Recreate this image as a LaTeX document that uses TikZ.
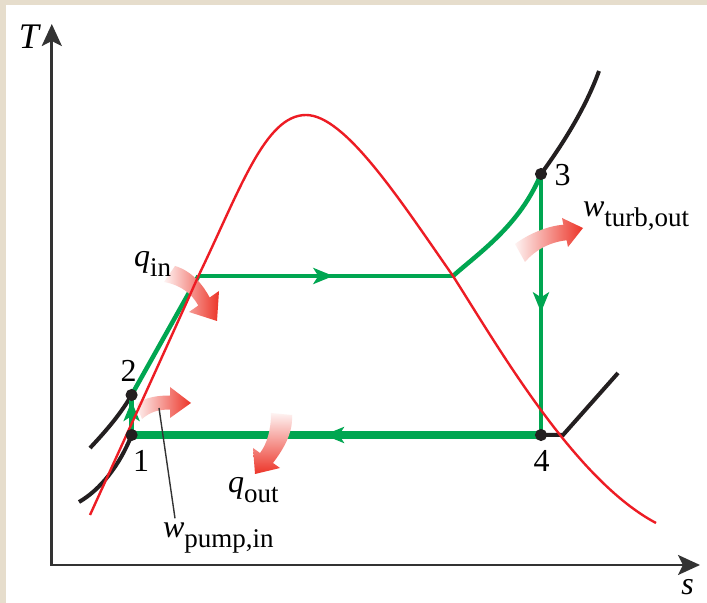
\documentclass[tikz,border=0pt]{standalone}
\usepackage{fontspec}
\setmainfont{Liberation Serif}
\usetikzlibrary{arrows.meta}
\usetikzlibrary{decorations.markings}

\definecolor{cyclegreen}{RGB}{0,166,81}
\definecolor{domered}{RGB}{237,28,36}
\definecolor{isoblack}{RGB}{35,31,32}
\definecolor{heatred}{RGB}{236,52,40}
\definecolor{paper}{RGB}{230,221,204}

\newcommand{\sub}[1]{\raisebox{-5pt}{\fontsize{13.5}{14}\selectfont #1}}

\tikzset{
  midarrow/.style={postaction={decorate},
    decoration={markings, mark=at position #1 with {\arrow{Stealth[length=10pt,width=8pt,inset=2.5pt]}}}},
  lbl/.style={inner sep=0pt, font=\fontsize{16}{18}\selectfont},
  isobar/.style={isoblack, line width=2pt},
  cycle line/.style={cyclegreen, line width=2.25pt},
}

\begin{document}
\begin{tikzpicture}[x=0.5pt, y=-0.5pt, line width=1pt]
    \fill[paper] (0,0) rectangle (707,603);
    \fill[white] (6,5) rectangle (707,603);
    \useasboundingbox (0,0) rectangle (707,603);

    \coordinate (O) at (51.8,565);
    \coordinate (Ttop) at (51.8,24);
    \coordinate (sright) at (700,565);

    \coordinate (p1) at (131.6,435);
    \coordinate (p2) at (131.6,395);
    \coordinate (p3) at (541,174);
    \coordinate (p4) at (541,435);
    \coordinate (f) at (198.4,276);
    \coordinate (g) at (453,276);
    \coordinate (crit) at (306,115);
    \coordinate (dl) at (90,515);
    \coordinate (dr) at (656,523);

    \coordinate (a1) at (79,502);
    \coordinate (a2) at (90,448);
    \coordinate (a3) at (599,71);
    \coordinate (k4) at (563,435);
    \coordinate (a4) at (618,373);
    \coordinate (lead) at (159,408);

    \draw[black!80, line width=1.4pt,
      {Stealth[length=11pt,width=10pt,inset=2.5pt]}-{Stealth[length=11pt,width=10pt,inset=2.5pt]}]
      (Ttop) -- (O) -- (sright);

    \draw[isobar] (a1) .. controls (100,490) and (120,465) .. (p1);
    \draw[isobar] (a2) .. controls (105,432) and (120,415) .. (p2);
    \draw[isobar] (p3) .. controls (560,148) and (585,110) .. (a3);
    \draw[isobar] (p4) -- (k4) -- (a4);

    \draw[cycle line, line width=4pt, midarrow=0.53] (p4) -- (p1);
    \draw[cycle line, midarrow=0.85] (p1) -- (p2);
    \draw[cycle line] (p2) -- (f);
    \draw[cycle line, midarrow=0.53] (f) -- (g);
    \draw[cycle line] (g) .. controls (480,252) and (520,225) .. (p3);
    \draw[cycle line, midarrow=0.53] (p3) -- (p4);

    \shade[left color=heatred!6, right color=heatred]
      (175,266) .. controls (192,271) and (203,285) .. (209.7,297.5)
      -- (219,291) -- (217,321) -- (189,312) -- (198.3,305.5)
      .. controls (192,294) and (181,285) .. (164,282) -- cycle;
    \shade[left color=heatred!6, right color=heatred]
      (136,404) .. controls (146,397) and (158,395.5) .. (170,395.5)
      -- (170,387) -- (191,403) -- (170,418) -- (170,409.5)
      .. controls (158,409.5) and (150,412) .. (142,419) -- cycle;
    \shade[top color=heatred!6, bottom color=heatred]
      (292,415) .. controls (293,432) and (285,447) .. (273,463)
      -- (280,468) -- (255,474) -- (253,448) -- (260,453)
      .. controls (267,444) and (271,430) .. (271,413) -- cycle;
    \shade[left color=heatred!6, right color=heatred]
      (515,244) .. controls (530,233) and (548,226) .. (563.4,224.7)
      -- (562,218) -- (583,228) -- (568,247) -- (566.6,240.3)
      .. controls (550,242) and (535,250) .. (525,262) -- cycle;

    \draw[domered, line width=1.2pt] (dl) .. controls (115,460) and (170,340) .. (f)
      .. controls (240,190) and (265,115) .. (crit)
      .. controls (345,115) and (400,200) .. (g)
      .. controls (500,350) and (575,480) .. (dr);

    \filldraw[isoblack] (p1) circle (2.5pt);
    \filldraw[isoblack] (p2) circle (2.5pt);
    \filldraw[isoblack] (p3) circle (2.5pt);
    \filldraw[isoblack] (p4) circle (2.5pt);

    \node[lbl, anchor=base] (n1) at (141,472) {1};
    \node[lbl, anchor=base] (n2) at (128.5,382) {2};
    \node[lbl, anchor=base] (n3) at (562.5,186) {3};
    \node[lbl, anchor=base] (n4) at (541.5,472) {4};

    \node[lbl, anchor=base, font=\fontsize{18}{20}\selectfont\itshape] (Tlab) at (29,49) {T};
    \node[lbl, anchor=base, font=\fontsize{16}{18}\selectfont\itshape] (slab) at (687.5,595) {s};

    \node[lbl, anchor=base west] (qin) at (133,266.5) {\textit{q}\sub{in}};
    \node[lbl, anchor=base west] (qout) at (227,493) {\textit{q}\sub{out}};
    \node[lbl, anchor=base west] (wpump) at (162,538) {\textit{w}\sub{pump,in}};
    \node[lbl, anchor=base west] (wturb) at (582,217) {\textit{w}\sub{turb,out}};

    \draw[black!80, line width=0.7pt] (lead) -- ([xshift=6.5pt,yshift=2pt]wpump.north west);
\end{tikzpicture}
\end{document}
